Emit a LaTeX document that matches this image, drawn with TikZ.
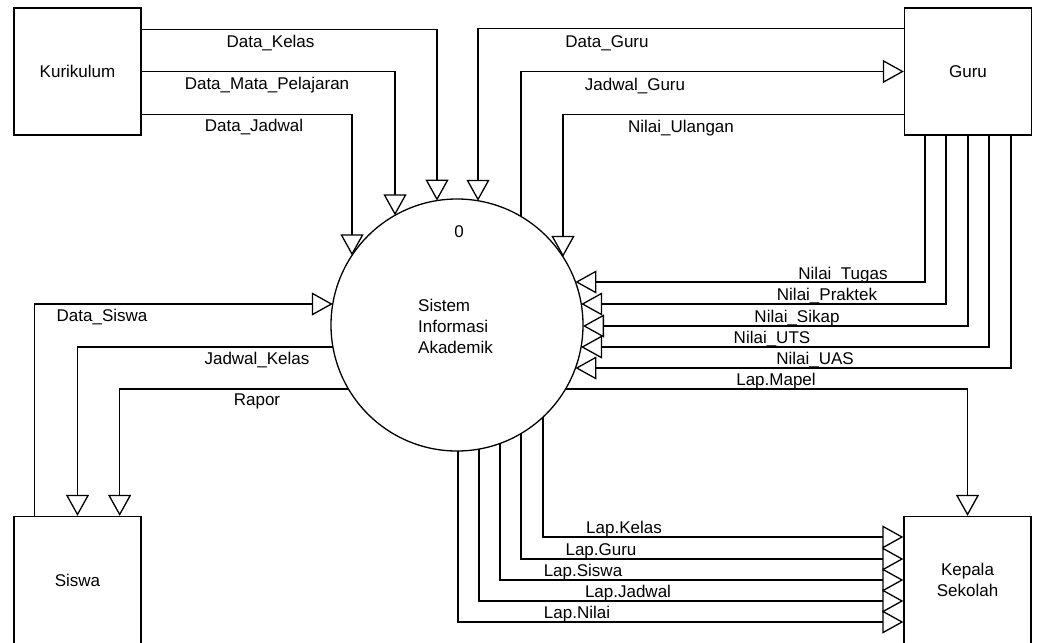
\documentclass[tikz,border=0pt]{standalone}
\usepackage{fontspec}
\setmainfont{Liberation Sans}
\usetikzlibrary{arrows.meta,calc}
\begin{document}
\begin{tikzpicture}[x=1pt,y=-1pt,
  every node/.style={font=\fontsize{17pt}{21pt}\selectfont},
  box/.style={draw,line width=1.3pt,minimum width=127pt,minimum height=127pt,inner sep=0pt,align=center},
  flow/.style={draw,line width=1.3pt},
  arr/.style={flow,-{Triangle[length=21pt,width=23pt,fill=white]}},
  lbl/.style={anchor=base,inner sep=0pt}]
\useasboundingbox (0,0) rectangle (1037,643);
\fill[white] (0,0) rectangle (1037,643);
% entities
\node[box] (kur) at (77.5,71.5) {Kurikulum};
\node[box] (guru) at (968,71.5) {Guru};
\node[box] (sis) at (77.5,580) {Siswa};
\node[box] (kep) at (967.5,580) {Kepala\\Sekolah};
% process
\node[circle,draw,line width=1.3pt,minimum size=252pt,inner sep=0pt] (sia) at (457,325) {};
\node[lbl] (pid) at (459,237.5) {0};
\node[anchor=west,inner sep=0pt,align=left] (pname) at (418,326.3) {Sistem\\Informasi\\Akademik};
% points on the circle
\coordinate (t1) at ($(sia.center)+(-20,-124.40)$);
\coordinate (t2) at ($(sia.center)+(-62,-109.69)$);
\coordinate (t3) at ($(sia.center)+(-105,-69.65)$);
\coordinate (t4) at ($(sia.center)+(21,-124.24)$);
\coordinate (t5) at ($(sia.center)+(64,-108.54)$);
\coordinate (t6) at ($(sia.center)+(106,-68.12)$);
\coordinate (r1) at ($(sia.center)+(118.44,-43)$);
\coordinate (r2) at ($(sia.center)+(124.24,-21)$);
\coordinate (r3) at ($(sia.center)+(126,1)$);
\coordinate (r4) at ($(sia.center)+(124.06,22)$);
\coordinate (r5) at ($(sia.center)+(118.44,43)$);
\coordinate (r6) at ($(sia.center)+(108.54,64)$);
\coordinate (l1) at ($(sia.center)+(-124.24,-21)$);
\coordinate (l2) at ($(sia.center)+(-124.06,22)$);
\coordinate (l3) at ($(sia.center)+(-108.54,64)$);
\coordinate (b1) at ($(sia.center)+(1,126)$);
\coordinate (b2) at ($(sia.center)+(22,124.06)$);
\coordinate (b3) at ($(sia.center)+(43,118.44)$);
\coordinate (b4) at ($(sia.center)+(64,108.54)$);
\coordinate (b5) at ($(sia.center)+(86,92.09)$);
% flows
\draw[arr] ([yshift=-22pt]kur.north east) -| (t1);
\draw[arr] (kur.east) -| (t2);
\draw[arr] ([yshift=21pt]kur.south east) -| (t3);
\draw[arr] ([yshift=-21pt]guru.north west) -| (t4);
\draw[arr] (t5) |- (guru.west);
\draw[arr] ([yshift=21pt]guru.south west) -| (t6);
\draw[arr] ([xshift=-43pt]guru.south) |- (r1);
\draw[arr] ([xshift=-22pt]guru.south) |- (r2);
\draw[arr] (guru.south) |- (r3);
\draw[arr] ([xshift=21pt]guru.south) |- (r4);
\draw[arr] ([xshift=43pt]guru.south) |- (r5);
\draw[arr] (r6) -| (kep.north);
\draw[arr] ([xshift=21pt]sis.north west) |- (l1);
\draw[arr] (l2) -| (sis.north);
\draw[arr] (l3) -| ([xshift=-22pt]sis.north east);
\draw[arr] (b5) |- ([yshift=43pt]kep.west);
\draw[arr] (b4) |- ([yshift=21pt]kep.west);
\draw[arr] (b3) |- (kep.west);
\draw[arr] (b2) |- ([yshift=-21pt]kep.west);
\draw[arr] (b1) |- ([yshift=-42pt]kep.west);
% labels
\node[lbl] (lk) at (270.5,47) {Data\_Kelas};
\node[lbl] (lmp) at (267,89.3) {Data\_Mata\_Pelajaran};
\node[lbl] (ldj) at (254,131.3) {Data\_Jadwal};
\node[lbl] (ldg) at (607,47) {Data\_Guru};
\node[lbl] (ljg) at (635,90) {Jadwal\_Guru};
\node[lbl] (lnu) at (681,132) {Nilai\_Ulangan};
\node[lbl] (lnt) at (843,279) {Nilai\_Tugas};
\node[lbl] (lnp) at (827,300) {Nilai\_Praktek};
\node[lbl] (lns) at (797,322) {Nilai\_Sikap};
\node[lbl] (lnuts) at (772,343) {Nilai\_UTS};
\node[lbl] (lnuas) at (815,364) {Nilai\_UAS};
\node[lbl] (llm) at (776,385) {Lap.Mapel};
\node[lbl] (llk) at (624,533) {Lap.Kelas};
\node[lbl] (llg) at (601,555) {Lap.Guru};
\node[lbl] (lls) at (583,576) {Lap.Siswa};
\node[lbl] (llj) at (628,597) {Lap.Jadwal};
\node[lbl] (lln) at (577,618) {Lap.Nilai};
\node[lbl] (lds) at (102,321.5) {Data\_Siswa};
\node[lbl] (ljk) at (257,364) {Jadwal\_Kelas};
\node[lbl] (lr) at (257,405) {Rapor};
\end{tikzpicture}
\end{document}
